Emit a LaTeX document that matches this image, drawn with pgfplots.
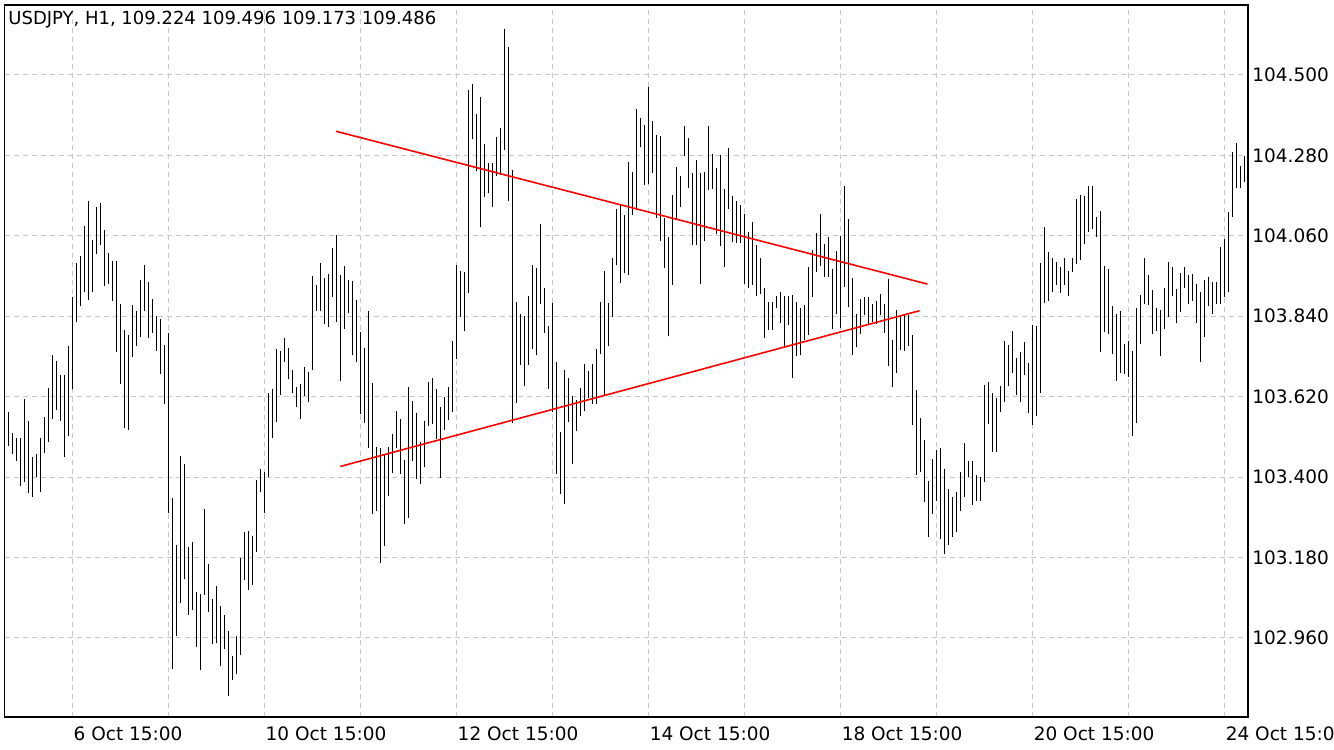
\documentclass[border=0pt]{standalone}
\usepackage{pgfplots}
\usepackage{pgfplotstable}
\usepackage{fontspec}
\setmainfont{DejaVu Sans}
\pgfplotsset{compat=1.18}
\pgfplotstableread{
x l h
0 103.486 103.577
1 103.462 103.520
2 103.445 103.508
3 103.375 103.508
4 103.386 103.613
5 103.355 103.552
6 103.345 103.455
7 103.400 103.464
8 103.360 103.508
9 103.465 103.564
10 103.497 103.644
11 103.560 103.733
12 103.584 103.717
13 103.554 103.678
14 103.455 103.678
15 103.513 103.759
16 103.640 103.893
17 103.823 103.987
18 103.867 104.005
19 103.906 104.087
20 103.884 104.154
21 103.907 104.049
22 104.009 104.138
23 104.035 104.151
24 103.924 104.076
25 103.928 104.014
26 103.882 103.991
27 103.742 103.991
28 103.655 103.874
29 103.533 103.801
30 103.530 103.788
31 103.729 103.870
32 103.759 103.853
33 103.784 103.939
34 103.854 103.980
35 103.781 103.933
36 103.795 103.887
37 103.745 103.841
38 103.682 103.833
39 103.600 103.761
40 103.302 103.795
41 102.874 103.343
42 102.966 103.213
43 103.056 103.458
44 103.120 103.436
45 103.023 103.208
46 103.037 103.222
47 102.934 103.086
48 102.871 103.081
49 103.076 103.313
50 103.032 103.162
51 102.942 103.067
52 102.945 103.102
53 102.882 103.048
54 102.929 103.023
55 102.802 102.979
56 102.846 102.911
57 102.860 102.966
58 102.912 103.179
59 103.117 103.250
60 103.092 103.253
61 103.106 103.239
62 103.196 103.391
63 103.359 103.423
64 103.302 103.414
65 103.400 103.631
66 103.506 103.642
67 103.550 103.751
68 103.625 103.745
69 103.715 103.781
70 103.667 103.754
71 103.629 103.692
72 103.592 103.647
73 103.560 103.655
74 103.621 103.700
75 103.604 103.687
76 103.693 103.951
77 103.855 103.926
78 103.853 103.985
79 103.818 103.945
80 103.811 103.956
81 103.892 104.027
82 103.823 104.062
83 103.662 103.953
84 103.805 103.978
85 103.848 103.940
86 103.733 103.937
87 103.714 103.885
88 103.572 103.796
89 103.548 103.754
90 103.480 103.853
91 103.299 103.657
92 103.307 103.483
93 103.165 103.479
94 103.212 103.462
95 103.348 103.482
96 103.411 103.517
97 103.479 103.582
98 103.408 103.558
99 103.271 103.448
100 103.288 103.647
101 103.445 103.609
102 103.395 103.576
103 103.381 103.496
104 103.427 103.552
105 103.539 103.661
106 103.544 103.672
107 103.503 103.640
108 103.398 103.593
109 103.530 103.620
110 103.555 103.647
111 103.577 103.771
112 103.723 103.981
113 103.839 103.965
114 103.799 103.962
115 103.904 104.460
116 104.324 104.474
117 104.236 104.392
118 104.085 104.440
119 104.165 104.310
120 104.176 104.258
121 104.138 104.260
122 104.223 104.331
123 104.226 104.354
124 104.294 104.627
125 104.154 104.577
126 103.548 104.240
127 103.602 103.880
128 103.706 103.845
129 103.648 103.841
130 103.706 103.896
131 103.750 103.979
132 103.733 103.971
133 103.873 104.091
134 103.794 103.916
135 103.641 103.812
136 103.577 103.877
137 103.408 103.716
138 103.353 103.524
139 103.326 103.694
140 103.550 103.670
141 103.435 103.623
142 103.525 103.611
143 103.566 103.643
144 103.580 103.708
145 103.616 103.691
146 103.601 103.709
147 103.599 103.749
148 103.738 103.880
149 103.623 103.965
150 103.758 103.877
151 103.837 104.000
152 103.979 104.134
153 103.932 104.144
154 103.958 104.118
155 103.952 104.263
156 104.116 104.235
157 104.130 104.408
158 104.302 104.381
159 104.198 104.364
160 104.201 104.468
161 104.233 104.374
162 104.110 104.336
163 104.045 104.333
164 103.972 104.109
165 103.785 104.058
166 103.925 104.173
167 104.105 104.249
168 104.138 104.224
169 104.279 104.360
170 104.192 104.328
171 104.034 104.232
172 104.034 104.268
173 103.928 104.232
174 104.045 104.235
175 104.184 104.361
176 104.187 104.285
177 104.066 104.246
178 104.031 104.282
179 103.974 104.187
180 104.133 104.299
181 104.043 104.170
182 104.039 104.155
183 104.040 104.145
184 103.928 104.121
185 103.917 104.071
186 103.925 104.098
187 103.895 104.036
188 103.902 103.998
189 103.781 103.918
190 103.803 103.880
191 103.802 103.880
192 103.862 103.894
193 103.821 103.907
194 103.756 103.896
195 103.816 103.894
196 103.672 103.898
197 103.730 103.880
198 103.733 103.863
199 103.774 103.872
200 103.789 103.974
201 103.893 104.021
202 103.960 104.067
203 103.977 104.119
204 103.946 104.037
205 103.948 104.056
206 103.806 103.969
207 103.845 104.018
208 103.808 104.059
209 103.921 104.196
210 103.864 104.106
211 103.735 103.945
212 103.756 103.845
213 103.790 103.887
214 103.843 103.892
215 103.819 103.892
216 103.825 103.873
217 103.819 103.882
218 103.843 103.901
219 103.795 103.873
220 103.704 103.942
221 103.645 103.775
222 103.686 103.857
223 103.748 103.842
224 103.746 103.844
225 103.759 103.844
226 103.543 103.789
227 103.406 103.638
228 103.414 103.562
229 103.332 103.502
230 103.236 103.389
231 103.300 103.450
232 103.334 103.474
233 103.231 103.480
234 103.190 103.423
235 103.215 103.368
236 103.236 103.346
237 103.250 103.359
238 103.308 103.414
239 103.345 103.494
240 103.400 103.444
241 103.324 103.444
242 103.335 103.406
243 103.335 103.400
244 103.387 103.652
245 103.546 103.660
246 103.468 103.631
247 103.468 103.617
248 103.578 103.649
249 103.605 103.772
250 103.649 103.761
251 103.686 103.800
252 103.625 103.726
253 103.604 103.742
254 103.679 103.769
255 103.574 103.713
256 103.543 103.816
257 103.568 103.813
258 103.631 103.986
259 103.875 104.084
260 103.882 104.015
261 103.907 104.000
262 103.926 103.988
263 103.904 103.974
264 103.926 104.000
265 103.895 103.964
266 103.962 104.000
267 103.983 104.161
268 103.994 104.172
269 104.038 104.169
270 104.071 104.196
271 104.079 104.196
272 104.057 104.112
273 103.743 104.128
274 103.797 103.977
275 103.791 103.969
276 103.738 103.868
277 103.663 103.847
278 103.686 103.854
279 103.681 103.764
280 103.674 103.772
281 103.513 103.744
282 103.549 103.863
283 103.765 103.898
284 103.874 104.000
285 103.871 103.953
286 103.792 103.912
287 103.800 103.863
288 103.730 103.857
289 103.805 103.917
290 103.837 103.987
291 103.896 103.974
292 103.821 103.915
293 103.852 103.957
294 103.918 103.974
295 103.874 103.953
296 103.881 103.956
297 103.821 103.927
298 103.715 103.906
299 103.784 103.938
300 103.869 103.948
301 103.847 103.933
302 103.874 103.933
303 103.874 104.029
304 103.892 104.050
305 103.907 104.124
306 104.111 104.289
307 104.192 104.314
308 104.192 104.250
309 104.207 104.278
}\bars
\begin{document}
\begin{tikzpicture}
\fill[white] (0,0) rectangle (667pt,375pt);
\useasboundingbox (0,0) rectangle (667pt,375pt);
\begin{axis}[
  at={(2.25pt,16.5pt)}, anchor=south west,
  width=621.75pt, height=356pt, scale only axis,
  xmin=-0.95, xmax=309.9, ymin=102.7435, ymax=104.6915,
  axis line style={black, line width=0.6pt},
  font=\fontsize{9.25}{11}\selectfont,
  xtick={16,40,...,304},
  xticklabels={6 Oct 15:00,,10 Oct 15:00,,12 Oct 15:00,,14 Oct 15:00,,18 Oct 15:00,,20 Oct 15:00,,24 Oct 15:00},
  ytick={102.96,103.18,103.40,103.62,103.84,104.06,104.28,104.50},
  yticklabel pos=right,
  major tick length=0pt,
  grid=major,
  major grid style={gray!45, line width=0.5pt, dash pattern=on 2.5pt off 2pt},
  xticklabel style={anchor=north west, inner sep=0pt, xshift=0.5pt},
  xticklabel shift=4.5pt,
  yticklabel style={anchor=west, inner sep=0pt, /pgf/number format/.cd, fixed, fixed zerofill, precision=3, assume math mode=true},
  yticklabel shift=2pt,
  clip=true,
]
\addplot[black, line width=0.6pt, quiver={u=0, v=\thisrow{h}-\thisrow{l}}] table[x=x, y=l] {\bars};
\addplot[red, line width=0.8pt] coordinates {(81.9,104.346) (229.75,103.928)};
\addplot[red, line width=0.8pt] coordinates {(83.0,103.429) (227.75,103.855)};
\node[anchor=north west, inner sep=0pt, xshift=1.75pt, yshift=-3pt, font=\fontsize{9}{11}\selectfont] at (rel axis cs:0,1) {USDJPY, H1, 109.224 109.496 109.173 109.486};
\end{axis}
\end{tikzpicture}
\end{document}
